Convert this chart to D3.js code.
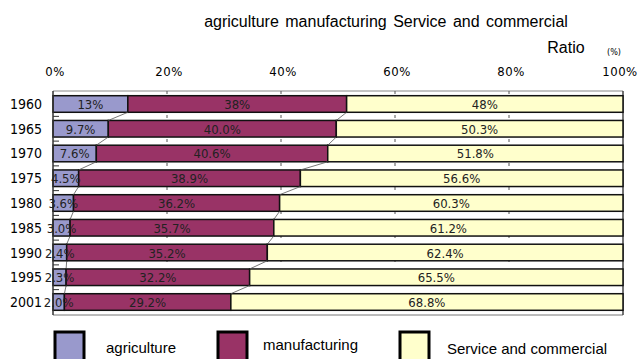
<!DOCTYPE html>
<html>
<head>
<meta charset="utf-8">
<script src="https://cdn.jsdelivr.net/npm/d3@7"></script>
<style>
  body { margin: 0; background: #fff; }
  svg { display: block; }
</style>
</head>
<body>
<svg id="chart" width="638" height="359"></svg>
<script>
const years = ["1960", "1965", "1970", "1975", "1980", "1985", "1990", "1995", "2001"];
const agriculture = [13, 9.7, 7.6, 4.5, 3.6, 3.0, 2.4, 2.3, 2.0];
const manufacturing = [38, 40.0, 40.6, 38.9, 36.2, 35.7, 35.2, 32.2, 29.2];
const service = [48, 50.3, 51.8, 56.6, 60.3, 61.2, 62.4, 65.5, 68.8];
const labelsText = [
  ["13%", "9.7%", "7.6%", "4.5%", "3.6%", "3.0%", "2.4%", "2.3%", "2.0%"],
  ["38%", "40.0%", "40.6%", "38.9%", "36.2%", "35.7%", "35.2%", "32.2%", "29.2%"],
  ["48%", "50.3%", "51.8%", "56.6%", "60.3%", "61.2%", "62.4%", "65.5%", "68.8%"]
];
const seriesNames = ["agriculture", "manufacturing", "Service and commercial"];
const colors = ["#9999cc", "#993366", "#ffffcc"];
const tickValues = [0, 20, 40, 60, 80, 100];

const svg = d3.select("#chart");
const pLeft = 53, pRight = 623, pTop = 91, pBottom = 315;
const condensed = "DejaVu Sans Condensed, sans-serif";

const x = d3.scaleLinear().domain([0, 100]).range([pLeft, pRight]);
const y = d3.scaleBand().domain(years).range([pTop, pBottom])
  .paddingInner(0.33).paddingOuter(0.19);

// normalise each year to 100%
const rows = years.map((yr, i) => {
  const vals = [agriculture[i], manufacturing[i], service[i]];
  const sum = d3.sum(vals);
  let acc = 0;
  return vals.map((v, s) => {
    const x0 = acc;
    acc += (v / sum) * 100;
    return { year: yr, s: s, x0: x0, x1: acc, label: labelsText[s][i] };
  });
});

// title
svg.append("text").attr("x", 386).attr("y", 27)
  .attr("text-anchor", "middle")
  .style("font-family", "Liberation Sans, Arial, sans-serif")
  .style("font-size", "16px")
  .style("word-spacing", "2px")
  .text("agriculture manufacturing Service and commercial");
svg.append("text").attr("x", 566).attr("y", 53)
  .attr("text-anchor", "middle")
  .style("font-family", "Liberation Sans, Arial, sans-serif")
  .style("font-size", "16px")
  .text("Ratio");
svg.append("text").attr("x", 614).attr("y", 55)
  .attr("text-anchor", "middle")
  .style("font-family", condensed)
  .style("font-size", "9px")
  .text("(%)");

// top axis labels
svg.append("g").selectAll("text").data(tickValues).enter().append("text")
  .attr("x", d => x(d) + (d === 100 ? -3 : 2))
  .attr("y", 76)
  .attr("text-anchor", "middle")
  .style("font-family", condensed)
  .style("font-size", "13px")
  .style("letter-spacing", "0.5px")
  .text(d => d + "%");

// plot frame
svg.append("line").attr("x1", pLeft).attr("x2", pRight).attr("y1", pTop).attr("y2", pTop)
  .attr("stroke", "#888").attr("stroke-width", 1);
svg.append("line").attr("x1", pLeft).attr("x2", pRight).attr("y1", pBottom).attr("y2", pBottom)
  .attr("stroke", "#777").attr("stroke-width", 1);
svg.append("line").attr("x1", pRight).attr("x2", pRight).attr("y1", pTop).attr("y2", pBottom)
  .attr("stroke", "#444").attr("stroke-width", 1.5);

// dashed gridlines
svg.append("g").selectAll("line").data(tickValues.slice(1, 5)).enter().append("line")
  .attr("x1", d => x(d)).attr("x2", d => x(d))
  .attr("y1", pTop).attr("y2", pBottom)
  .attr("stroke", "#555").attr("stroke-dasharray", "3,9").attr("stroke-width", 1);

// bars
const barG = svg.append("g");
rows.forEach(r => {
  barG.selectAll(null).data(r).enter().append("rect")
    .attr("x", d => x(d.x0))
    .attr("y", d => y(d.year))
    .attr("width", d => x(d.x1) - x(d.x0))
    .attr("height", y.bandwidth())
    .attr("fill", d => colors[d.s])
    .attr("stroke", "#111")
    .attr("stroke-width", 1.5);
});

// series lines between bars
const linkG = svg.append("g");
for (let i = 0; i < years.length - 1; i++) {
  [0, 1].forEach(s => {
    linkG.append("line")
      .attr("x1", x(rows[i][s].x1)).attr("y1", y(years[i]) + y.bandwidth())
      .attr("x2", x(rows[i + 1][s].x1)).attr("y2", y(years[i + 1]))
      .attr("stroke", "#555").attr("stroke-width", 0.8);
  });
}

// category ticks on left axis
const step = y.step();
svg.append("g").selectAll("line").data(years.slice(1)).enter().append("line")
  .attr("x1", pLeft).attr("x2", pLeft + 6)
  .attr("y1", d => y(d) - (step - y.bandwidth()) / 2)
  .attr("y2", d => y(d) - (step - y.bandwidth()) / 2)
  .attr("stroke", "#333").attr("stroke-width", 1);
svg.append("line").attr("x1", pLeft).attr("x2", pLeft).attr("y1", pTop).attr("y2", pBottom)
  .attr("stroke", "#333").attr("stroke-width", 1.5);

// year labels
svg.append("g").selectAll("text").data(years).enter().append("text")
  .attr("x", 42)
  .attr("y", d => y(d) + y.bandwidth() / 2 + 5)
  .attr("text-anchor", "end")
  .style("font-family", condensed)
  .style("font-size", "14px")
  .text(d => d);

// value labels
const labG = svg.append("g");
rows.forEach(r => {
  labG.selectAll(null).data(r).enter().append("text")
    .attr("x", d => (x(d.x0) + x(d.x1)) / 2)
    .attr("y", d => y(d.year) + y.bandwidth() / 2 + 5)
    .attr("text-anchor", "middle")
    .style("font-family", condensed)
    .style("font-size", "13px")
    .attr("fill", "#222")
    .text(d => d.label);
});

// legend
const legendX = [55, 218, 400];
const legendTextX = [106, 263, 447];
const legendTextY = [353, 350, 354];
const lg = svg.append("g");
seriesNames.forEach((name, i) => {
  lg.append("rect")
    .attr("x", legendX[i]).attr("y", 332)
    .attr("width", 29).attr("height", 30)
    .attr("fill", colors[i])
    .attr("stroke", "#000").attr("stroke-width", 3);
  lg.append("text")
    .attr("x", legendTextX[i]).attr("y", legendTextY[i])
    .style("font-family", "Liberation Sans, Arial, sans-serif")
    .style("font-size", "15px")
    .text(name);
});
</script>
</body>
</html>
